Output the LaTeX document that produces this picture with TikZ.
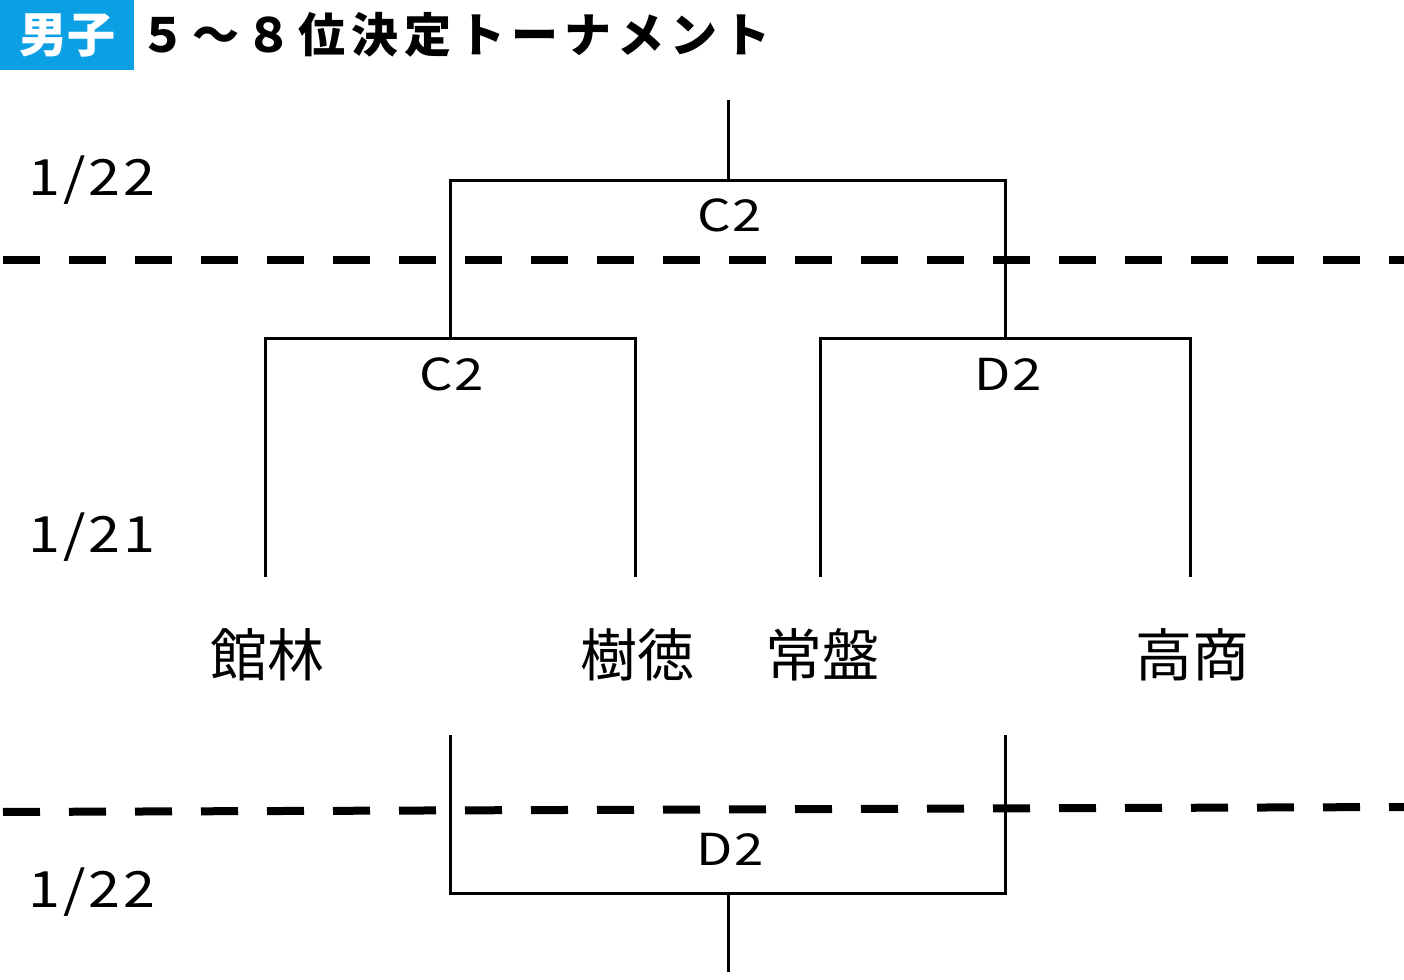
\documentclass[tikz,border=0pt]{standalone}
\usepackage{fontspec}
\newfontfamily\jp{Noto Sans CJK JP}
\definecolor{hdrblue}{RGB}{11,159,227}
\begin{document}
\begin{tikzpicture}[x=0.5pt,y=-0.5pt,
  br/.style={line width=1.5pt},
  sep/.style={line width=4pt, dash pattern=on 18.5pt off 14.5pt, dash phase=-1.5pt},
  team/.style={font=\jp\fontsize{28.5pt}{30pt}\selectfont, inner sep=0pt},
  lbl/.style={font=\jp\fontsize{22pt}{24pt}\selectfont\addfontfeature{FakeStretch=1.2,LetterSpace=3}, inner sep=0pt},
  datel/.style={font=\jp\fontsize{25pt}{27pt}\selectfont\addfontfeature{FakeStretch=1.15,LetterSpace=6}, inner sep=0pt, anchor=west}]
\useasboundingbox (0,0) rectangle (1404,980);
% header
\node[fill=hdrblue, minimum width=67pt, minimum height=35pt, inner sep=0pt, anchor=north west] (hdr) at (0,0) {};
\node[font=\jp\bfseries\fontsize{24pt}{26pt}\selectfont, text=white, inner sep=0pt] (hdrt) at (hdr.center) {男子};
\node[font=\jp\bfseries\fontsize{23.5pt}{26pt}\selectfont\addfontfeature{LetterSpace=13}, inner sep=0pt, anchor=west] (title) at (139,35) {５～８位決定トーナメント};
% dates
\node[datel] (d1) at (28,180) {1/22};
\node[datel] (d2) at (28,537) {1/21};
\node[datel] (d3) at (28,892) {1/22};
% coordinates
\coordinate (t0) at (728,100);
\coordinate (tM) at (728,180);
\coordinate (tL) at (450,180);
\coordinate (tR) at (1005,180);
\coordinate (lM) at (450,338);
\coordinate (lL) at (265,338);
\coordinate (lR) at (635,338);
\coordinate (lLe) at (265,577);
\coordinate (lRe) at (635,577);
\coordinate (rM) at (1005,338);
\coordinate (rL) at (820,338);
\coordinate (rR) at (1190,338);
\coordinate (rLe) at (820,577);
\coordinate (rRe) at (1190,577);
\coordinate (bL0) at (450,735);
\coordinate (bR0) at (1005,735);
\coordinate (bL) at (450,893);
\coordinate (bR) at (1005,893);
\coordinate (bM) at (728,893);
\coordinate (b1) at (728,972);
% brackets
\draw[br] (t0) -- (tM);
\draw[br] (lM) -- (tL) -- (tR) -- (rM);
\draw[br] (lLe) -- (lL) -- (lR) -- (lRe);
\draw[br] (rLe) -- (rL) -- (rR) -- (rRe);
\draw[br] (bL0) -- (bL) -- (bR) -- (bR0);
\draw[br] (bM) -- (b1);
% separators
\coordinate (s1a) at (0,260);
\coordinate (s1b) at (1404,260);
\coordinate (s2a) at (0,812);
\coordinate (s2b) at (1404,807);
\draw[sep] (s1a) -- (s1b);
\draw[sep] (s2a) -- (s2b);
% labels
\node[lbl] (m1) at (730,215) {C2};
\node[lbl] (m2) at (452,374) {C2};
\node[lbl] (m3) at (1008,374) {D2};
\node[lbl] (m4) at (730,849) {D2};
% teams
\node[team] (k1) at (267,655) {館林};
\node[team] (k2) at (637,655) {樹徳};
\node[team] (k3) at (822,655) {常盤};
\node[team] (k4) at (1192,655) {高商};
\end{tikzpicture}
\end{document}
